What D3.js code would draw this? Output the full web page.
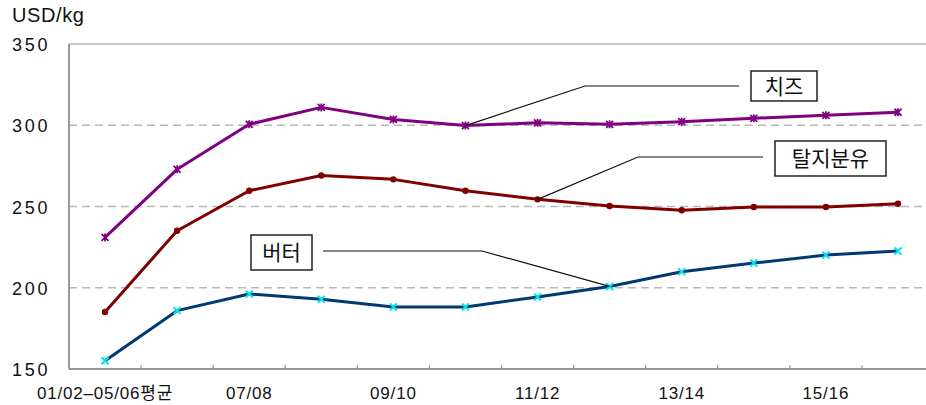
<!DOCTYPE html>
<html><head><meta charset="utf-8">
<script src="https://cdn.jsdelivr.net/npm/d3@7"></script>
<style>
html,body{margin:0;padding:0;background:#fff;}
svg{display:block;}
text{font-family:"Liberation Sans","Noto Sans CJK KR",Arial,sans-serif;fill:#111;}
</style></head>
<body><svg id="c" width="926" height="405"></svg>
<script>
const categories = ["01/02-05/06평균","06/07","07/08","08/09","09/10","10/11","11/12","12/13","13/14","14/15","15/16","16/17"];
const tickLabels = ["01/02–05/06평균","","07/08","","09/10","","11/12","","13/14","","15/16",""];
const cheese = [231.0, 272.9, 300.6, 311.0, 303.6, 299.8, 301.5, 300.6, 302.2, 304.3, 306.1, 308.0];
const skimMilk = [185.1, 235.1, 259.7, 269.1, 266.7, 259.7, 254.4, 250.3, 247.7, 249.7, 249.7, 251.7];
const butter = [155.1, 185.9, 196.2, 192.9, 188.2, 188.2, 194.3, 200.8, 209.9, 215.2, 220.1, 222.6];
const yTicks = [150, 200, 250, 300, 350];
const seriesNames = ["치즈", "탈지분유", "버터"];
const unitLabel = "USD/kg";

const svg = d3.select("#c");
const pL = 69, pR = 934, pT = 44, pB = 369;
const x = d3.scaleBand().domain(categories).range([pL, pR]);
const xc = d => x(d) + x.bandwidth() / 2;
const y = d3.scaleLinear().domain([150, 350]).range([pB, pT]);

// gridlines
svg.append("g").selectAll("line").data(yTicks.filter(v => v > 150 && v < 350)).join("line")
  .attr("x1", pL).attr("x2", pR).attr("y1", d => y(d)).attr("y2", d => y(d))
  .attr("stroke", "#b8b8b8").attr("stroke-width", 1.5).attr("stroke-dasharray", "8,5");
svg.append("line").attr("x1", pL).attr("x2", pR).attr("y1", y(350)).attr("y2", y(350))
  .attr("stroke", "#b0b0b0").attr("stroke-width", 1.5);

// axes lines
svg.append("line").attr("x1", pL).attr("x2", pL).attr("y1", pT).attr("y2", pB)
  .attr("stroke", "#999").attr("stroke-width", 2);
svg.append("line").attr("x1", pL).attr("x2", pR).attr("y1", pB).attr("y2", pB)
  .attr("stroke", "#999").attr("stroke-width", 2);
// x tick marks at band boundaries (inward)
svg.append("g").selectAll("line").data(categories.slice(1)).join("line")
  .attr("x1", d => x(d)).attr("x2", d => x(d)).attr("y1", pB).attr("y2", pB - 4)
  .attr("stroke", "#999").attr("stroke-width", 1.2);

// y axis labels
const yAxis = d3.axisLeft(y).tickValues(yTicks).tickSize(0).tickPadding(0);
const gy = svg.append("g").attr("transform", `translate(12,0)`).call(yAxis);
gy.select(".domain").remove();
gy.selectAll("text").attr("font-size", 18).attr("fill", "#111").attr("text-anchor", "start").attr("x", 0)
  .style("font-family", "'Liberation Sans',Arial,sans-serif").attr("letter-spacing", 2.8).attr("dy", "0.37em");

// x axis labels
const xAxis = d3.axisBottom(x).tickSize(0).tickPadding(0).tickFormat((d, i) => tickLabels[i]);
const gx = svg.append("g").attr("transform", `translate(0,${pB + 18})`).call(xAxis);
gx.select(".domain").remove();
gx.selectAll("text").attr("font-size", 17).attr("fill", "#111").attr("dy", "0.71em").attr("letter-spacing", 0.8)
  .style("font-family", "'Liberation Sans','Noto Sans CJK KR',Arial,sans-serif");

svg.append("text").attr("x", 12).attr("y", 22).attr("font-size", 20).attr("letter-spacing", 0.6).text(unitLabel);

// lines
const line = d3.line().x((d, i) => xc(categories[i])).y(d => y(d));
function drawSeries(data, color, marker, mcolor) {
  svg.append("path").datum(data).attr("d", line).attr("fill", "none")
    .attr("stroke", color).attr("stroke-width", 3).attr("stroke-linejoin", "round");
  const g = svg.append("g");
  data.forEach((v, i) => {
    const cx = xc(categories[i]), cy = y(v);
    if (marker === "dot") {
      g.append("circle").attr("cx", cx).attr("cy", cy).attr("r", 3.2).attr("fill", mcolor);
    } else if (marker === "x") {
      const s = 3.5;
      g.append("path").attr("d", `M${cx-s},${cy-s}L${cx+s},${cy+s}M${cx-s},${cy+s}L${cx+s},${cy-s}`)
        .attr("stroke", mcolor).attr("stroke-width", 2);
    } else {
      const s = 3.5;
      g.append("path").attr("d", `M${cx-s},${cy-s}L${cx+s},${cy+s}M${cx-s},${cy+s}L${cx+s},${cy-s}M${cx},${cy-s-0.5}L${cx},${cy+s+0.5}`)
        .attr("stroke", mcolor).attr("stroke-width", 1.8);
    }
  });
}
drawSeries(cheese, "#800080", "star", "#800080");
drawSeries(skimMilk, "#800000", "dot", "#800000");
drawSeries(butter, "#003a70", "x", "#00e5ee");

// callouts
function callout(label, pts, box) {
  svg.append("path").attr("d", d3.line()(pts)).attr("fill", "none").attr("stroke", "#111").attr("stroke-width", 1.2);
  svg.append("rect").attr("x", box[0]).attr("y", box[1]).attr("width", box[2]).attr("height", box[3])
    .attr("fill", "#fff").attr("stroke", "#222").attr("stroke-width", 1.5);
  svg.append("text").attr("x", box[0] + box[2] / 2).attr("y", box[1] + box[3] / 2).attr("dy", "0.36em")
    .attr("text-anchor", "middle").attr("font-size", 21)
    .style("font-family", "'Noto Sans CJK KR',sans-serif").text(label);
}
callout(seriesNames[0], [[xc(categories[5]), y(cheese[5])], [585, 86], [739, 86]], [751, 71, 66, 30]);
callout(seriesNames[1], [[xc(categories[6]), y(skimMilk[6])], [638, 157], [763, 157]], [775, 141, 111, 35]);
callout(seriesNames[2], [[323, 251], [482, 251], [xc(categories[7]), y(butter[7])]], [251, 235, 61, 35]);
</script></body></html>
